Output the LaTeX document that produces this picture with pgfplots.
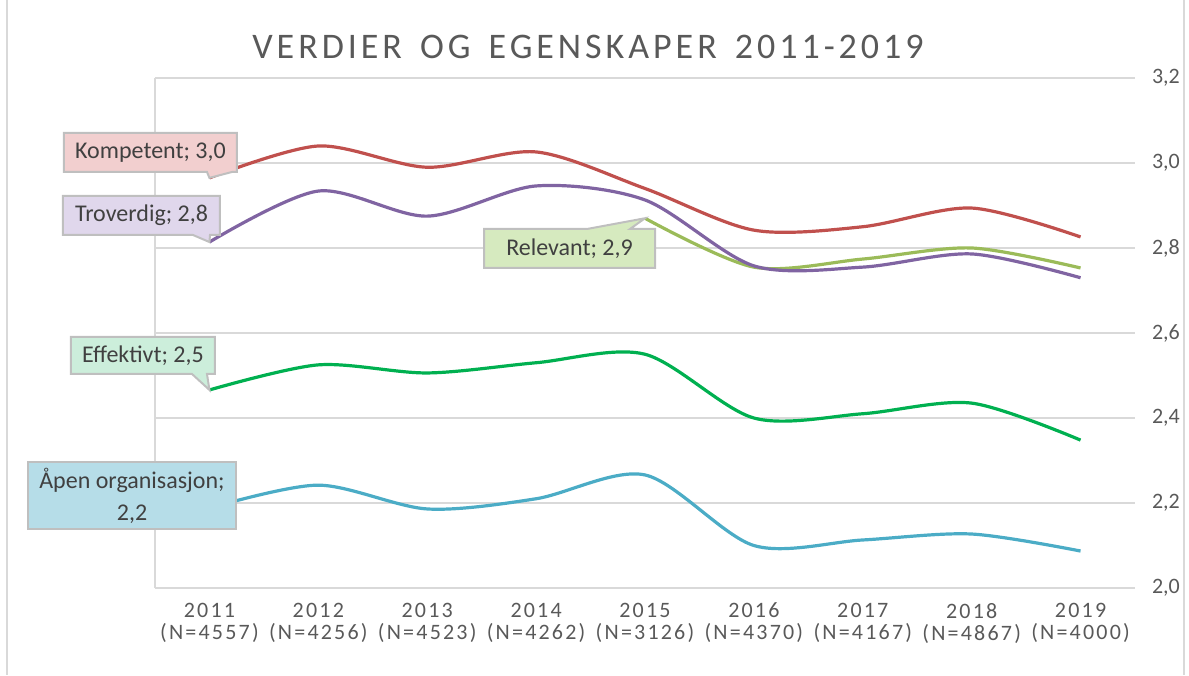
\documentclass[border=0pt]{standalone}
\usepackage{fontspec}
\setmainfont{Carlito}
\newfontfamily\spaced[LetterSpace=10]{Carlito}
\newfontfamily\titlefont[LetterSpace=11]{Carlito}
\usepackage{pgfplots}
\pgfplotsset{compat=1.18}
\definecolor{txt}{HTML}{595959}
\definecolor{ctxt}{HTML}{404040}
\definecolor{gridc}{HTML}{D9D9D9}
\definecolor{boxb}{HTML}{BFBFBF}
\definecolor{cK}{HTML}{C0504D}
\definecolor{cT}{HTML}{8064A2}
\definecolor{cR}{HTML}{9BBB59}
\definecolor{cE}{HTML}{00B050}
\definecolor{cA}{HTML}{4BACC6}
\definecolor{fK}{HTML}{F2CFCF}
\definecolor{fT}{HTML}{E0D7EC}
\definecolor{fR}{HTML}{D6EABF}
\definecolor{fE}{HTML}{CCEEDB}
\definecolor{fA}{HTML}{B6DDE8}
\begin{document}
\begin{tikzpicture}
\begin{axis}[name=ax, at={(0,0)}, anchor=south west,
  scale only axis, width=490pt, height=255pt,
  xmin=-0.5, xmax=8.5, ymin=2, ymax=3.2,
  clip=false,
  axis line style={draw=none},
  tick style={draw=none}, major tick length=0pt,
  ymajorgrids, grid style={gridc, line width=0.6pt},
  ytick={2,2.2,2.4,2.6,2.8,3,3.2},
  yticklabel pos=right,
  yticklabel style={/pgf/number format/.cd, use comma, fixed, fixed zerofill, precision=1, /tikz/.cd, font=\fontsize{11}{12}\selectfont, text=txt, anchor=west, xshift=5pt},
  /pgf/number format/assume math mode=true,
  xtick={0,1,2,3,4,5,6,7,8},
  xticklabels={{2011\\(N=4557)},{2012\\(N=4256)},{2013\\(N=4523)},{2014\\(N=4262)},{2015\\(N=3126)},{2016\\(N=4370)},{2017\\(N=4167)},{2018\\(N=4867)},{2019\\(N=4000)}},
  xticklabel style={align=center, font=\spaced\fontsize{11}{11}\selectfont, text=txt, yshift=-4pt},
  every axis plot/.append style={smooth, tension=0.5, line width=1.6pt, mark=none},
]
\draw[gridc, line width=0.6pt] (rel axis cs:0,0) -- (rel axis cs:0,1);
\addplot[cA] coordinates {(0,2.188) (1,2.242) (2,2.186) (3,2.210) (4,2.266) (5,2.100) (6,2.113) (7,2.127) (8,2.087)};
\addplot[cE] coordinates {(0,2.466) (1,2.525) (2,2.506) (3,2.530) (4,2.550) (5,2.400) (6,2.410) (7,2.435) (8,2.348)};
\addplot[cR] coordinates {(4,2.870) (5,2.755) (6,2.774) (7,2.800) (8,2.753)};
\addplot[cT] coordinates {(0,2.814) (1,2.934) (2,2.875) (3,2.946) (4,2.913) (5,2.758) (6,2.755) (7,2.786) (8,2.730)};
\addplot[cK] coordinates {(0,2.965) (1,3.040) (2,2.990) (3,3.026) (4,2.940) (5,2.842) (6,2.850) (7,2.894) (8,2.826)};
\coordinate (pK) at (axis cs:0,2.965);
\coordinate (pT) at (axis cs:0,2.814);
\coordinate (pR) at (axis cs:4,2.870);
\coordinate (pE) at (axis cs:0,2.466);
\end{axis}
\begin{scope}[x=0.5pt, y=-0.5pt, shift={(-77.5pt,294pt)}]
  % chart border
  \draw[gridc, line width=0.8pt] (7,0) -- (7,675);
  \draw[gridc, line width=0.8pt] (1184,0) -- (1184,675);
  % title
  \node[text=txt, font=\titlefont\fontsize{18}{20}\selectfont] at (588,47) {VERDIER\, OG\, EGENSKAPER\, 2011-2019};
  % callouts
  \filldraw[fill=fK, draw=boxb, line width=1pt] (64,133) -- (237,133) -- (237,172) -- (232,172) -- (pK) -- (207,172) -- (64,172) -- cycle;
  \node[text=ctxt, font=\fontsize{12}{14}\selectfont] at (150.5,152.5) {Kompetent; 3,0};
  \filldraw[fill=fT, draw=boxb, line width=1pt] (63,196) -- (220,196) -- (220,235) -- (210,235) -- (pT) -- (193,235) -- (63,235) -- cycle;
  \node[text=ctxt, font=\fontsize{12}{14}\selectfont] at (141.5,215.5) {Troverdig; 2,8};
  \filldraw[fill=fR, draw=boxb, line width=1pt] (484,229) -- (587,229) -- (pR) -- (630,229) -- (655,229) -- (655,268) -- (484,268) -- cycle;
  \node[text=ctxt, font=\fontsize{12}{14}\selectfont] at (569.5,248.5) {Relevant; 2,9};
  \filldraw[fill=fE, draw=boxb, line width=1pt] (71,337) -- (215,337) -- (215,374) -- (207,374) -- (pE) -- (192,374) -- (71,374) -- cycle;
  \node[text=ctxt, font=\fontsize{12}{14}\selectfont] at (143,355.5) {Effektivt; 2,5};
  \filldraw[fill=fA, draw=boxb, line width=1pt] (28,462) rectangle (236,529);
  \node[text=ctxt, font=\fontsize{12}{16}\selectfont, align=center] at (132,495.5) {Åpen organisasjon;\\2,2};
\end{scope}
\pgfresetboundingbox
\path[use as bounding box] (-77.5pt,-43.5pt) rectangle (517pt,294pt);
\end{tikzpicture}
\end{document}
